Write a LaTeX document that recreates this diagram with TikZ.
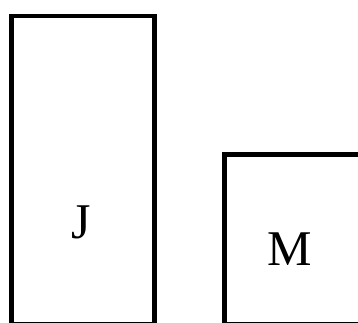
\documentclass[tikz,border=0pt]{standalone}
\usepackage{fontspec}
\setmainfont{Liberation Serif}
\usetikzlibrary{positioning}

\begin{document}
\begin{tikzpicture}[
      x=1pt,y=1pt,
      block/.style={draw=black,line width=4.6pt,fill=white,inner sep=0pt,outer sep=0pt},
      letter/.style={anchor=base,inner sep=0pt,font=\fontsize{50}{60}\selectfont}
    ]
      \useasboundingbox (0,0) rectangle (358,322);
      \clip (0,0) rectangle (358,322);
      \node[block,minimum width=143pt,minimum height=308pt] (jobs) at (83,152) {};
      \node[block,minimum width=155pt,minimum height=169.5pt] (machines) at (302,82.75) {};
      \node[letter] (jlabel) at (81,84) {J};
      \node[letter] (mlabel) at (290,57) {M};
    \end{tikzpicture}
\end{document}
